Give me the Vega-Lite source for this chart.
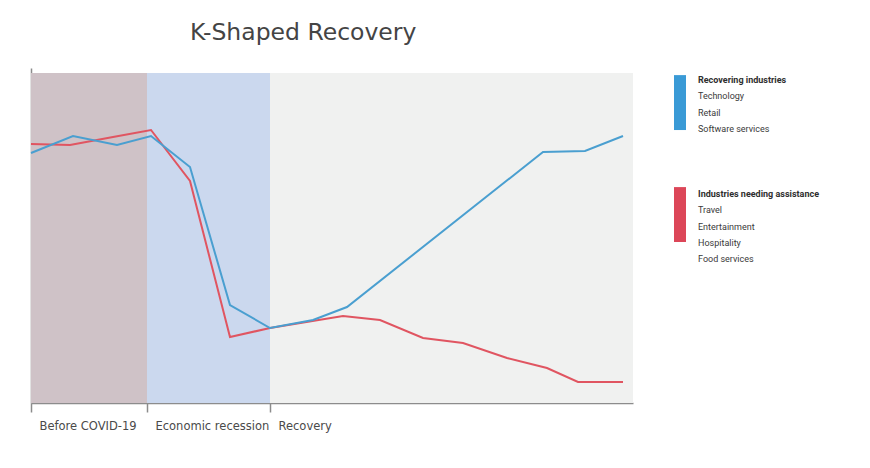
{
  "$schema": "https://vega.github.io/schema/vega-lite/v6.json",
  "background": "white",
  "padding": {"left": 27, "top": 20, "right": 10, "bottom": 10},
  "title": {"text": "K-Shaped Recovery", "anchor": "start", "dx": 163, "fontSize": 23.5, "font": "DejaVu Sans", "fontWeight": "normal", "color": "#444444", "offset": 24},
  "config": {"view": {"stroke": null}},
  "datasets": {
    "bands": [
      {"phase": "Before COVID-19", "start": 0, "end": 116},
      {"phase": "Economic recession", "start": 116, "end": 239},
      {"phase": "Recovery", "start": 239, "end": 602}
    ],
    "series": [
      {"series": "Industries needing assistance", "t": 0, "level": 259},
      {"series": "Industries needing assistance", "t": 39, "level": 258},
      {"series": "Industries needing assistance", "t": 82, "level": 266},
      {"series": "Industries needing assistance", "t": 120, "level": 273},
      {"series": "Industries needing assistance", "t": 159, "level": 222},
      {"series": "Industries needing assistance", "t": 199, "level": 66},
      {"series": "Industries needing assistance", "t": 239, "level": 75},
      {"series": "Industries needing assistance", "t": 312, "level": 87},
      {"series": "Industries needing assistance", "t": 349, "level": 83},
      {"series": "Industries needing assistance", "t": 392, "level": 65},
      {"series": "Industries needing assistance", "t": 432, "level": 60},
      {"series": "Industries needing assistance", "t": 476, "level": 45},
      {"series": "Industries needing assistance", "t": 516, "level": 35},
      {"series": "Industries needing assistance", "t": 547, "level": 21},
      {"series": "Industries needing assistance", "t": 592, "level": 21},
      {"series": "Recovering industries", "t": 0, "level": 250},
      {"series": "Recovering industries", "t": 42, "level": 267},
      {"series": "Recovering industries", "t": 86, "level": 258},
      {"series": "Recovering industries", "t": 120, "level": 267},
      {"series": "Recovering industries", "t": 159, "level": 236},
      {"series": "Recovering industries", "t": 199, "level": 98},
      {"series": "Recovering industries", "t": 239, "level": 75},
      {"series": "Recovering industries", "t": 282, "level": 83},
      {"series": "Recovering industries", "t": 316, "level": 96},
      {"series": "Recovering industries", "t": 512, "level": 251},
      {"series": "Recovering industries", "t": 554, "level": 252},
      {"series": "Recovering industries", "t": 592, "level": 267}
    ],
    "swatches": [
      {"group": "Recovering industries", "top": -0.3, "bottom": 3.07},
      {"group": "Industries needing assistance", "top": 6.57, "bottom": 9.94}
    ],
    "legendText": [
      {"label": "Recovering industries", "kind": "heading", "row": 0},
      {"label": "Technology", "kind": "item", "row": 1},
      {"label": "Retail", "kind": "item", "row": 2},
      {"label": "Software services", "kind": "item", "row": 3},
      {"label": "Industries needing assistance", "kind": "heading", "row": 7},
      {"label": "Travel", "kind": "item", "row": 8},
      {"label": "Entertainment", "kind": "item", "row": 9},
      {"label": "Hospitality", "kind": "item", "row": 10},
      {"label": "Food services", "kind": "item", "row": 11}
    ]
  },
  "resolve": {"scale": {"fill": "independent", "x": "independent", "y": "independent"}},
  "spacing": 41,
  "hconcat": [
    {
      "width": 602,
      "height": 335,
      "layer": [
        {
          "data": {"name": "bands"},
          "mark": {"type": "rect"},
          "encoding": {
            "x": {"field": "start", "type": "quantitative", "scale": {"domain": [0, 602], "nice": false, "zero": false},
              "axis": {"values": [0, 116, 239], "labelExpr": "datum.value == 0 ? 'Before COVID-19' : datum.value == 116 ? 'Economic recession' : 'Recovery'", "labelAlign": "left", "labelOffset": 8, "labelBaseline": "middle", "labelPadding": 14, "labelFontSize": 11.5, "labelFont": "DejaVu Sans", "labelColor": "#4a4a4a", "tickSize": 9, "tickColor": "#8c8c8c", "tickWidth": 1.5, "domainColor": "#8c8c8c", "domainWidth": 1.5, "grid": false, "title": null, "labelFlush": false, "labelOverlap": false, "labelBound": false}},
            "x2": {"field": "end"},
            "y": {"datum": 0, "type": "quantitative", "scale": {"domain": [0, 335], "nice": false, "zero": false},
              "axis": {"domain": true, "domainColor": "#8c8c8c", "domainWidth": 1.5, "ticks": false, "labels": false, "grid": false, "title": null}},
            "y2": {"datum": 330},
            "fill": {"field": "phase", "type": "nominal", "scale": {"domain": ["Before COVID-19", "Economic recession", "Recovery"], "range": ["#cfc2c7", "#cbd8ee", "#f0f1f0"]}, "legend": null}
          }
        },
        {
          "data": {"name": "series"},
          "transform": [{"filter": "datum.series === 'Industries needing assistance'"}],
          "mark": {"type": "line", "strokeWidth": 2, "color": "#e05561"},
          "encoding": {
            "x": {"field": "t", "type": "quantitative", "axis": {"title": null}},
            "y": {"field": "level", "type": "quantitative", "axis": {"title": null}}
          }
        },
        {
          "data": {"name": "series"},
          "transform": [{"filter": "datum.series === 'Recovering industries'"}],
          "mark": {"type": "line", "strokeWidth": 2, "color": "#4a9fd0"},
          "encoding": {
            "x": {"field": "t", "type": "quantitative", "axis": {"title": null}},
            "y": {"field": "level", "type": "quantitative", "axis": {"title": null}}
          }
        }
      ]
    },
    {
      "width": 160,
      "height": 335,
      "layer": [
        {
          "data": {"name": "swatches"},
          "mark": {"type": "rect"},
          "encoding": {
            "x": {"datum": 0, "type": "quantitative", "scale": {"domain": [0, 6.667], "nice": false, "zero": false}, "axis": null},
            "x2": {"datum": 0.5},
            "y": {"field": "top", "type": "quantitative", "scale": {"domain": [-0.736, 19.816], "reverse": true, "nice": false, "zero": false}, "axis": null},
            "y2": {"field": "bottom"},
            "fill": {"field": "group", "type": "nominal", "scale": {"domain": ["Recovering industries", "Industries needing assistance"], "range": ["#3a9ad6", "#dc4658"]}, "legend": null}
          }
        },
        {
          "data": {"name": "legendText"},
          "transform": [{"filter": "datum.kind === 'heading'"}],
          "mark": {"type": "text", "align": "left", "baseline": "middle", "font": "Roboto", "fontSize": 9, "fontWeight": "bold", "color": "#2e2e2e"},
          "encoding": {
            "x": {"datum": 1, "type": "quantitative"},
            "y": {"field": "row", "type": "quantitative"},
            "text": {"field": "label"}
          }
        },
        {
          "data": {"name": "legendText"},
          "transform": [{"filter": "datum.kind === 'item'"}],
          "mark": {"type": "text", "align": "left", "baseline": "middle", "font": "Roboto", "fontSize": 9, "color": "#3a3a3a"},
          "encoding": {
            "x": {"datum": 1, "type": "quantitative"},
            "y": {"field": "row", "type": "quantitative"},
            "text": {"field": "label"}
          }
        }
      ]
    }
  ]
}
